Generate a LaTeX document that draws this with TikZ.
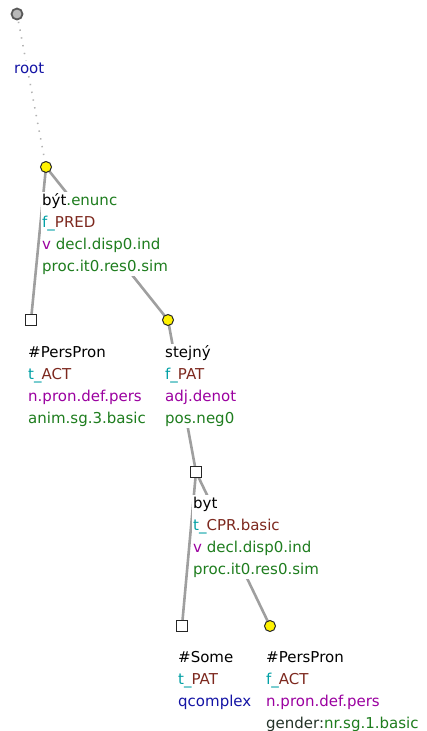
\documentclass[tikz,border=0pt]{standalone}
\usepackage{fontspec}
\setmainfont{DejaVu Sans}
\usepackage{xcolor}
\usepackage{tikz}
\usetikzlibrary{backgrounds}
\definecolor{lemgreen}{RGB}{30,125,30}
\definecolor{funteal}{RGB}{0,160,165}
\definecolor{funbrown}{RGB}{125,40,30}
\definecolor{pospurple}{RGB}{155,0,160}
\definecolor{rootblue}{RGB}{20,20,165}
\definecolor{gendergray}{RGB}{35,50,40}

\begin{document}
\begin{tikzpicture}[x=1pt, y=-1pt,
    rootnode/.style={circle, draw=black!65, fill=gray!55, line width=1.8pt, minimum size=11pt, inner sep=0pt},
    yellownode/.style={circle, draw=black!85, fill=yellow, line width=1pt, minimum size=11pt, inner sep=0pt},
    boxnode/.style={rectangle, draw=black!85, fill=white, line width=1.2pt, minimum size=10.5pt, inner sep=0pt},
    lbl/.style={anchor=base west, align=left, inner sep=1.5pt, fill=white, font=\fontsize{15}{22}\selectfont},
    treeedge/.style={draw=gray!75, line width=2.6pt},
    rootedge/.style={draw=gray!60, line width=1.6pt, dash pattern=on 1.4pt off 6.5pt}]
    \useasboundingbox (0,0) rectangle (427,731);
    % labels (anchored at the baseline of their last line)
    \node[lbl] (rootlbl) at (12.5,73) {\textcolor{rootblue}{root}};
    \node[lbl] (bytlbl) at (40.5,271) {být\textcolor{lemgreen}{.enunc}\\
        \textcolor{funteal}{f\_}\textcolor{funbrown}{PRED}\\
        \textcolor{pospurple}{v} \textcolor{lemgreen}{decl.disp0.ind}\\
        \textcolor{lemgreen}{proc.it0.res0.sim}};
    \node[lbl] (persprolbl) at (26.5,423) {\#PersPron\\
        \textcolor{funteal}{t\_}\textcolor{funbrown}{ACT}\\
        \textcolor{pospurple}{n.pron.def.pers}\\
        \textcolor{lemgreen}{anim.sg.3.basic}};
    \node[lbl] (stejnylbl) at (163.5,423) {stejný\\
        \textcolor{funteal}{f\_}\textcolor{funbrown}{PAT}\\
        \textcolor{pospurple}{adj.denot}\\
        \textcolor{lemgreen}{pos.neg0}};
    \node[lbl] (bytcprlbl) at (191.5,574) {byt\\
        \textcolor{funteal}{t\_}\textcolor{funbrown}{CPR.basic}\\
        \textcolor{pospurple}{v} \textcolor{lemgreen}{decl.disp0.ind}\\
        \textcolor{lemgreen}{proc.it0.res0.sim}};
    \node[lbl] (somelbl) at (176.5,706) {\#Some\\
        \textcolor{funteal}{t\_}\textcolor{funbrown}{PAT}\\
        \textcolor{rootblue}{qcomplex}};
    \node[lbl] (persactlbl) at (264.5,728) {\#PersPron\\
        \textcolor{funteal}{f\_}\textcolor{funbrown}{ACT}\\
        \textcolor{pospurple}{n.pron.def.pers}\\
        \textcolor{gendergray}{gender:}\textcolor{lemgreen}{nr.sg.1.basic}};
    % tree nodes
    \node[rootnode] (root) at (17,14) {};
    \node[yellownode] (byt) at (46,167) {};
    \node[boxnode] (perspron) at (31,320) {};
    \node[yellownode] (stejny) at (168,320) {};
    \node[boxnode] (bytcpr) at (196,472) {};
    \node[boxnode] (some) at (182,626) {};
    \node[yellownode] (persact) at (270,626) {};
    % edges behind
    \begin{scope}[on background layer]
        \draw[rootedge] (root.center) -- (byt.center);
        \draw[treeedge] (byt.center) -- (perspron.center);
        \draw[treeedge] (byt.center) -- (stejny.center);
        \draw[treeedge] (stejny.center) -- (bytcpr.center);
        \draw[treeedge] (bytcpr.center) -- (some.center);
        \draw[treeedge] (bytcpr.center) -- (persact.center);
    \end{scope}
\end{tikzpicture}
\end{document}
